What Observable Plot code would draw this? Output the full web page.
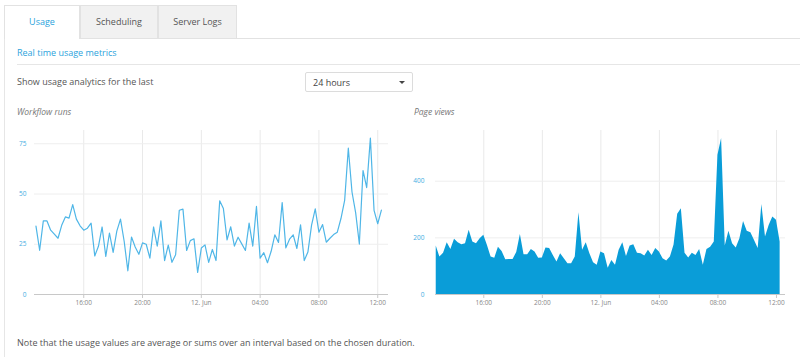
<!DOCTYPE html>
<html>
<head>
<meta charset="utf-8">
<script src="https://cdn.jsdelivr.net/npm/d3@7"></script>
<script src="https://cdn.jsdelivr.net/npm/@observablehq/plot@0.6"></script>
<style>
  html, body { margin: 0; padding: 0; background: #fff; }
  body { width: 800px; height: 357px; overflow: hidden; font-family: "Open Sans", sans-serif; }
  #page { position: relative; width: 800px; height: 357px; }
  .abs { position: absolute; white-space: nowrap; }
  .tab { position: absolute; top: 5px; height: 33px; box-sizing: border-box; border: 1px solid #e2e2e2; border-bottom: none;
         font-size: 9px; line-height: 32px; text-align: center; color: #555; background: #f1f1f1; }
  .tab.active { background: #fff; color: #2ba3dc; height: 34px; z-index: 2; }
  .txt { font-size: 9px; color: #555; line-height: 12px; }
  .ctitle { font-size: 8.5px; font-style: italic; color: #777; line-height: 12px; }
  #sel { position: absolute; left: 305px; top: 72px; width: 108px; height: 20px; box-sizing: border-box; border: 1px solid #dcdcdc; border-radius: 2px; background: #fff; }
  #sel span { position: absolute; left: 7px; top: 4px; font-size: 9px; color: #444; line-height: 12px; }
  #sel i { position: absolute; right: 7px; top: 8px; width: 0; height: 0; border-left: 3px solid transparent; border-right: 3px solid transparent; border-top: 3.5px solid #444; }
  .chart { position: absolute; }
  .chart svg { overflow: visible; }
</style>
</head>
<body>
<div id="page">
  <div class="abs" style="left:4px;top:38px;width:1px;height:319px;background:#e6e6e6"></div>
  <div class="abs" style="left:80px;top:38px;width:720px;height:1px;background:#e2e2e2"></div>
  <div class="tab active" style="left:4px;width:76px">Usage</div>
  <div class="tab" style="left:80px;width:78px">Scheduling</div>
  <div class="tab" style="left:158px;width:79px">Server Logs</div>
  <div class="abs txt" style="left:17px;top:47px;color:#2ba3dc">Real time usage metrics</div>
  <div class="abs" style="left:17px;top:64px;width:783px;height:1px;background:#e6e6e6"></div>
  <div class="abs txt" style="left:17px;top:76px">Show usage analytics for the last</div>
  <div id="sel"><span>24 hours</span><i></i></div>
  <div class="abs ctitle" style="left:17px;top:106px">Workflow runs</div>
  <div class="abs ctitle" style="left:414px;top:106px">Page views</div>
  <div id="left" class="chart" style="left:0px;top:125px"></div>
  <div id="right" class="chart" style="left:400px;top:125px"></div>
  <div class="abs txt" style="left:17px;top:337px">Note that the usage values are average or sums over an interval based on the chosen duration.</div>
</div>
<script>
// ---- data ----
const seriesStart = "2019-06-11T12:45:00Z";   // first sample, 15-minute samples
const stepMinutes = 15;
const workflowRuns = [34,22,36.6,36.6,32,30,28,34.4,38.6,38,
  44.7,37.5,34.2,32,33,35.5,19.2,24,33.6,19,
  30.6,21,31.5,37.5,26.5,11.8,28.6,23.6,20,25.7,
  25,18.1,33.6,24.1,36.6,16.9,24.6,16,19.8,41.9,
  42.5,21.9,26.8,27.7,11,23.1,24.7,16,22.4,16.9,
  46.6,42.8,27.2,33.7,24.1,28.5,25.2,21.9,35.5,24.1,
  43.8,18.1,20.8,15.8,21.5,29.7,25.9,45.7,23.2,27.5,
  29.7,22.9,34.7,16.9,21.1,34.5,42.6,31,34.8,26,
  28,29.8,31,37.8,46.8,72.8,51,40.6,25.1,61.7,
  53.2,77.8,41.9,35.2,42];
const pageViews = [171,132,146,183,159,195,183,176,179,227,
  185,179,197,209,173,132,128,167,152,123,
  124,124,148,212,140,140,159,150,128,129,
  164,162,138,115,144,126,109,109,132,289,
  156,183,144,112,103,150,144,93,120,103,
  156,183,134,171,176,146,144,136,156,138,
  162,150,126,118,132,175,283,303,146,129,
  146,138,159,103,159,167,185,492,551,171,
  223,179,164,197,258,223,218,191,162,318,
  203,244,274,262,185];
const xTickTimes = ["2019-06-11T16:00Z","2019-06-11T20:00Z","2019-06-12T00:00Z","2019-06-12T04:00Z","2019-06-12T08:00Z","2019-06-12T12:00Z"];
const xTickLabels = ["16:00","20:00","12. Jun","04:00","08:00","12:00"];
const runsTicks = [0, 25, 50, 75];
const viewsTicks = [0, 200, 400];

// ---- build tables ----
const t0 = new Date(seriesStart);
const runsData = workflowRuns.map((v, i) => ({t: d3.utcMinute.offset(t0, i * stepMinutes), v}));
const viewsData = pageViews.map((v, i) => ({t: d3.utcMinute.offset(t0, i * stepMinutes), v}));
const ticks = xTickTimes.map(s => new Date(s));
const fmt = d => xTickLabels[ticks.findIndex(t => +t === +d)];

function chart({data, domainX, domainY, yTicks, marginLeft, marginRight, yPad, mark}) {
  return Plot.plot({
    width: 395, height: 185,
    marginLeft, marginRight, marginTop: 5, marginBottom: 16,
    style: {fontFamily: "Open Sans, sans-serif", fontSize: "6.5px", background: "transparent", overflow: "visible"},
    x: {type: "utc", domain: domainX.map(s => new Date(s)), label: null},
    y: {domain: domainY, label: null},
    marks: [
      Plot.gridX(ticks, {stroke: "#e9e9e9", strokeOpacity: 1}),
      Plot.gridY(yTicks.filter(d => d > 0), {stroke: "#eeeeee", strokeOpacity: 1}),
      mark(data),
      Plot.ruleY([0], {stroke: "#c8c8c8", strokeWidth: 1}),
      Plot.axisX({ticks, tickFormat: fmt, tickSize: 4, tickPadding: 2, stroke: "#c8c8c8", fill: "#888", label: null}),
      Plot.axisY({ticks: yTicks, tickSize: 0, tickPadding: yPad, fill: "#45ade2", label: null})
    ]
  });
}

document.getElementById("left").append(chart({
  data: runsData,
  domainX: ["2019-06-11T12:39Z", "2019-06-12T12:44Z"],
  domainY: [0, 81.6], yTicks: runsTicks,
  marginLeft: 34, marginRight: 7, yPad: 8,
  mark: d => Plot.lineY(d, {x: "t", y: "v", stroke: "#4fb6e7", strokeWidth: 1.2})
}));

document.getElementById("right").append(chart({
  data: viewsData,
  domainX: ["2019-06-11T12:42Z", "2019-06-12T12:37Z"],
  domainY: [0, 579], yTicks: viewsTicks,
  marginLeft: 35, marginRight: 10, yPad: 11,
  mark: d => Plot.areaY(d, {x: "t", y: "v", fill: "#0a9dd8"})
}));
</script>
</body>
</html>
